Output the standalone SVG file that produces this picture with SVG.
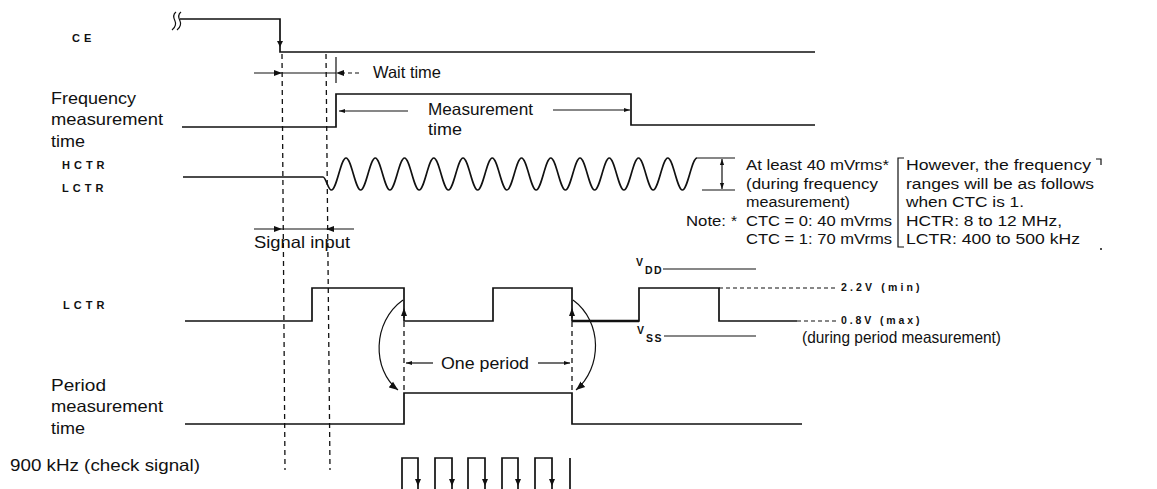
<svg xmlns="http://www.w3.org/2000/svg" width="1157" height="489" viewBox="0 0 1157 489">
<defs>
<style>
.w{fill:none;stroke:#111;stroke-width:1.7}
.th{fill:none;stroke:#111;stroke-width:1.2}
.d{fill:none;stroke:#111;stroke-width:1.3;stroke-dasharray:5 4}
.dt{fill:none;stroke:#111;stroke-width:1.2;stroke-dasharray:4 3}
.t{font-family:"Liberation Sans",Arial,sans-serif;font-size:16.5px;fill:#111}
.r{font-family:"Liberation Sans",Arial,sans-serif;font-size:15.5px;fill:#111}
.m{font-family:"Liberation Sans",Arial,sans-serif;font-size:11px;font-weight:bold;fill:#111;letter-spacing:4px}
.s{font-family:"Liberation Sans",Arial,sans-serif;font-size:10.5px;font-weight:bold;fill:#111;letter-spacing:1.5px}
</style>
<marker id="ah" viewBox="0 0 10 10" refX="10" refY="5" markerWidth="6" markerHeight="6" orient="auto-start-reverse" markerUnits="userSpaceOnUse">
<path d="M0,1.5 L10,5 L0,8.5 z" fill="#111"/>
</marker>
<marker id="ahb" viewBox="0 0 10 10" refX="10" refY="5" markerWidth="9" markerHeight="9" orient="auto" markerUnits="userSpaceOnUse">
<path d="M0,1 L10,5 L0,9 z" fill="#111"/>
</marker>
</defs>
<rect width="1157" height="489" fill="#fff"/>

<g id="labels">
<text class="m" x="72" y="42">CE</text>
<text class="t" x="51" y="104" textLength="85" lengthAdjust="spacingAndGlyphs">Frequency</text>
<text class="t" x="51" y="125" textLength="112" lengthAdjust="spacingAndGlyphs">measurement</text>
<text class="t" x="51" y="147" textLength="34" lengthAdjust="spacingAndGlyphs">time</text>
<text class="m" x="62" y="169">HCTR</text>
<text class="m" x="62" y="192">LCTR</text>
<text class="m" x="63" y="309">LCTR</text>
<text class="t" x="51" y="391" textLength="55" lengthAdjust="spacingAndGlyphs">Period</text>
<text class="t" x="51" y="412" textLength="112" lengthAdjust="spacingAndGlyphs">measurement</text>
<text class="t" x="51" y="434" textLength="34" lengthAdjust="spacingAndGlyphs">time</text>
<text class="t" x="10" y="471" textLength="190" lengthAdjust="spacingAndGlyphs">900 kHz (check signal)</text>
</g>

<g id="ce-signal">
<path class="th" d="M176,12 c-4,3 -2,7 -1,9 s1,6 -3,9 M181,12 c-4,3 -2,7 -1,9 s1,6 -3,9"/>
<path class="w" d="M180,19 H280 V52 H815"/>
<path d="M277,41 L280,47 L283,41 z" fill="#111"/>
</g>

<g id="wait-time">
<line class="th" x1="254" y1="73" x2="336" y2="73"/>
<line class="th" x1="336" y1="57" x2="336" y2="83"/>
<line class="dt" x1="341" y1="73" x2="362" y2="73"/>
<path d="M274,70 L282,73 L274,76 z" fill="#111"/>
<path d="M344,70 L336,73 L344,76 z" fill="#111"/>
<text class="t" x="373" y="78" textLength="68" lengthAdjust="spacingAndGlyphs">Wait time</text>
</g>

<g id="freq-measurement">
<path class="w" d="M182,127 H336 V94 H631 V125 H815"/>
<line class="th" x1="408" y1="111" x2="339" y2="111" marker-end="url(#ah)"/>
<line class="th" x1="553" y1="110" x2="630" y2="110" marker-end="url(#ah)"/>
<text class="t" x="428" y="115" textLength="105" lengthAdjust="spacingAndGlyphs">Measurement</text>
<text class="t" x="428" y="135" textLength="34" lengthAdjust="spacingAndGlyphs">time</text>
</g>

<g id="hctr-lctr-wave">
<path class="w" d="M183,177 H323 C326,177 328,190 331.4,190 c5.33,0 9.3,-32 14.625,-32 c5.33,0 9.3,32 14.625,32 c5.33,0 9.3,-32 14.625,-32 c5.33,0 9.3,32 14.625,32 c5.33,0 9.3,-32 14.625,-32 c5.33,0 9.3,32 14.625,32 c5.33,0 9.3,-32 14.625,-32 c5.33,0 9.3,32 14.625,32 c5.33,0 9.3,-32 14.625,-32 c5.33,0 9.3,32 14.625,32 c5.33,0 9.3,-32 14.625,-32 c5.33,0 9.3,32 14.625,32 c5.33,0 9.3,-32 14.625,-32 c5.33,0 9.3,32 14.625,32 c5.33,0 9.3,-32 14.625,-32 c5.33,0 9.3,32 14.625,32 c5.33,0 9.3,-32 14.625,-32 c5.33,0 9.3,32 14.625,32 c5.33,0 9.3,-32 14.625,-32 c5.33,0 9.3,32 14.625,32 c5.33,0 9.3,-32 14.625,-32 c5.33,0 9.3,32 14.625,32 c5.33,0 9.3,-32 14.625,-32 c5.33,0 9.3,32 14.625,32 c5.33,0 9.3,-32 14.625,-32"/>
<path class="th" d="M697,158 H735 M702,190 H735"/>
<line class="th" x1="722" y1="174" x2="722" y2="159" marker-end="url(#ah)"/>
<line class="th" x1="722" y1="174" x2="722" y2="189" marker-end="url(#ah)"/>
</g>

<g id="signal-input">
<line class="th" x1="254" y1="229" x2="354" y2="229"/>
<path d="M274,226 L282,229 L274,232 z" fill="#111"/>
<path d="M334,226 L326,229 L334,232 z" fill="#111"/>
<text class="t" x="254" y="248" textLength="96" lengthAdjust="spacingAndGlyphs">Signal input</text>
</g>

<g id="note-block">
<text class="r" x="746" y="170" textLength="143" lengthAdjust="spacingAndGlyphs">At least 40 mVrms*</text>
<text class="r" x="746" y="188.5" textLength="132" lengthAdjust="spacingAndGlyphs">(during frequency</text>
<text class="r" x="746" y="207" textLength="104" lengthAdjust="spacingAndGlyphs">measurement)</text>
<text class="r" x="686" y="225.5" textLength="40" lengthAdjust="spacingAndGlyphs">Note:</text>
<text class="r" x="731" y="225.5">*</text>
<text class="r" x="746" y="225.5" textLength="146" lengthAdjust="spacingAndGlyphs">CTC = 0: 40 mVrms</text>
<text class="r" x="746" y="244" textLength="146" lengthAdjust="spacingAndGlyphs">CTC = 1: 70 mVrms</text>
<path class="th" d="M904,158 H898 V247 H904"/>
<text class="r" x="906" y="170" textLength="185" lengthAdjust="spacingAndGlyphs">However, the frequency</text>
<text class="r" x="906" y="188.5" textLength="188" lengthAdjust="spacingAndGlyphs">ranges will be as follows</text>
<text class="r" x="906" y="207" textLength="118" lengthAdjust="spacingAndGlyphs">when CTC is 1.</text>
<text class="r" x="906" y="225.5" textLength="156" lengthAdjust="spacingAndGlyphs">HCTR: 8 to 12 MHz,</text>
<text class="r" x="906" y="244" textLength="174" lengthAdjust="spacingAndGlyphs">LCTR: 400 to 500 kHz</text>
<path class="th" d="M1096,159 H1101 V165"/>
<circle cx="1101" cy="249" r="1" fill="#111"/>
</g>

<g id="dashed-guides">
<line class="d" x1="282" y1="54" x2="285" y2="470"/>
<line class="d" x1="326" y1="54" x2="330" y2="470"/>
<line class="d" x1="404" y1="313" x2="404" y2="392"/>
<line class="d" x1="572" y1="313" x2="572" y2="392"/>
<path d="M401,316 L404,308 L407,316 z" fill="#111"/>
<path d="M569,316 L572,308 L575,316 z" fill="#111"/>
</g>

<g id="lctr-period">
<path class="w" d="M185,321 H312 V288 H404 V321 H493 V288 H572 V321 H639 V288 H719 V321 H797"/>
<line x1="572" y1="321" x2="639" y2="321" stroke="#111" stroke-width="2.6"/>
<line class="dt" x1="797" y1="321" x2="838" y2="321"/>
<line class="dt" x1="719" y1="288" x2="838" y2="288"/>
<text class="s" x="841" y="291" textLength="80">2.2V (min)</text>
<text class="s" x="841" y="324" textLength="80">0.8V (max)</text>
<text class="t" x="802" y="343" textLength="199" lengthAdjust="spacingAndGlyphs">(during period measurement)</text>
<text class="s" x="636" y="266">V</text>
<text class="s" x="645" y="274">DD</text>
<line class="th" x1="663" y1="269" x2="756" y2="269"/>
<text class="s" x="637" y="334">V</text>
<text class="s" x="646" y="342">SS</text>
<line class="th" x1="664" y1="336" x2="756" y2="336"/>
</g>

<g id="period-measurement">
<path class="w" d="M185,424 H404 V393 H572 V424 H802"/>
<line class="th" x1="433" y1="363" x2="406" y2="363" marker-end="url(#ah)"/>
<line class="th" x1="538" y1="363" x2="570" y2="363" marker-end="url(#ah)"/>
<text class="t" x="441" y="369" textLength="88" lengthAdjust="spacingAndGlyphs">One period</text>
<path class="th" d="M403,300 C372,322 372,370 398,390" marker-end="url(#ahb)"/>
<path class="th" d="M573,300 C603,322 602,368 576,390" marker-end="url(#ahb)"/>
</g>

<g id="check-signal">
<path class="w" d="M402,489 V458 H418 V489 M435,489 V458 H452 V489 M468,489 V458 H485 V489 M502,489 V458 H518 V489 M535,489 V458 H552 V489 M570,489 V458"/>
<path d="M415,479 L418,486 L421,479 z M449,479 L452,486 L455,479 z M482,479 L485,486 L488,479 z M515,479 L518,486 L521,479 z M549,479 L552,486 L555,479 z" fill="#111"/>
</g>
</svg>
